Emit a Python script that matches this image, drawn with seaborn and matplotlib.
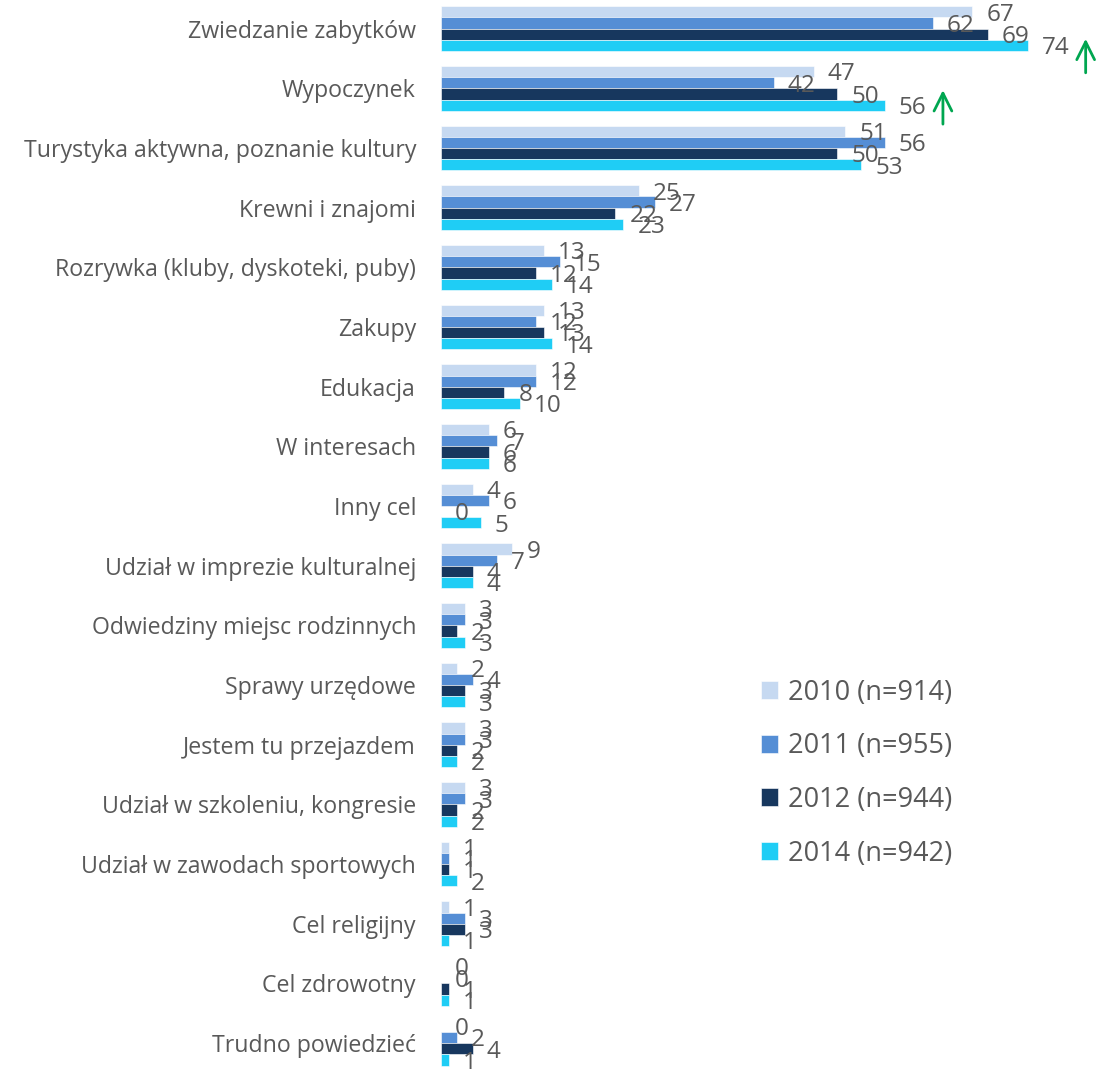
import pandas as pd
import matplotlib.pyplot as plt
import seaborn as sns

# data
categories = ['Zwiedzanie zabytków', 'Wypoczynek', 'Turystyka aktywna, poznanie kultury',
              'Krewni i znajomi', 'Rozrywka (kluby, dyskoteki, puby)', 'Zakupy', 'Edukacja',
              'W interesach', 'Inny cel', 'Udział w imprezie kulturalnej',
              'Odwiedziny miejsc rodzinnych', 'Sprawy urzędowe', 'Jestem tu przejazdem',
              'Udział w szkoleniu, kongresie', 'Udział w zawodach sportowych', 'Cel religijny',
              'Cel zdrowotny', 'Trudno powiedzieć']
series = ['2010 (n=914)', '2011 (n=955)', '2012 (n=944)', '2014 (n=942)']
v2010 = [67, 47, 51, 25, 13, 13, 12, 6, 4, 9, 3, 2, 3, 3, 1, 1, 0, 0]
v2011 = [62, 42, 56, 27, 15, 12, 12, 7, 6, 7, 3, 4, 3, 3, 1, 3, 0, 2]
v2012 = [69, 50, 50, 22, 12, 13, 8, 6, 0, 4, 2, 3, 2, 2, 1, 3, 1, 4]
v2014 = [74, 56, 53, 23, 14, 14, 10, 6, 5, 4, 3, 3, 2, 2, 2, 1, 1, 1]
colors = ['#C6D9F1', '#558ED5', '#17375E', '#1FCDF5']
rising = ['Zwiedzanie zabytków', 'Wypoczynek']  # marked with green arrows

rows = []
for name, vals in zip(series, [v2010, v2011, v2012, v2014]):
    for cat, v in zip(categories, vals):
        rows.append({'cel': cat, 'rok': name, 'proc': v})
df = pd.DataFrame(rows)

sns.set_theme(style='white')
plt.rcParams['font.family'] = ['Open Sans', 'DejaVu Sans']
text_col = '#595959'

fig = plt.figure(figsize=(11.15, 10.7), dpi=100)
ax = fig.add_axes([441 / 1115, 0, 674 / 1115, 1])

sns.barplot(data=df, y='cel', x='proc', hue='rok', order=categories, hue_order=series,
            palette=colors, orient='h', width=0.75, ax=ax, errorbar=None,
            edgecolor='white', linewidth=0.4, saturation=1)

for cont in ax.containers:
    for patch in cont:
        w = patch.get_width()
        yc = patch.get_y() + patch.get_height() / 2
        ax.annotate(f'{w:.0f}', (w, yc), xytext=(10, -2), textcoords='offset points',
                    ha='left', va='center', fontsize=17.5, color=text_col)

# green arrows for rising categories
for k, cat in enumerate(rising):
    i = categories.index(cat)
    x = v2014[i] + 7.3
    top = i + 0.17 - 0.14 * k
    ax.annotate('', xy=(x, top), xytext=(x, top + 0.57),
                arrowprops=dict(arrowstyle='->', color='#00A650', lw=2, mutation_scale=32,
                                shrinkA=0, shrinkB=0))

ax.set_xlim(0, 85)
ax.set_ylim(len(categories) - 1 + 0.45, -0.48)
ax.set_xlabel('')
ax.set_ylabel('')
ax.set_xticks([])
ax.tick_params(axis='y', length=0, pad=18, labelsize=16.7, labelcolor=text_col)
sns.despine(ax=ax, left=True, bottom=True)

handles, labels = ax.get_legend_handles_labels()
ax.legend(handles, labels, loc='upper left', bbox_to_anchor=(0.458, 0.376), frameon=False,
          fontsize=19.5, handlelength=0.65, handleheight=0.65, handletextpad=0.35,
          labelspacing=0.95, labelcolor=text_col, borderaxespad=0)

fig.savefig('out.png', dpi=100)
